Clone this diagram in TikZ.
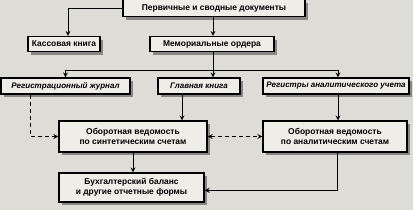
\documentclass[tikz,border=0pt]{standalone}
\usepackage{fontspec}
\setmainfont{Liberation Sans}
\usetikzlibrary{shadows}
\definecolor{paper}{RGB}{222,220,214}
\definecolor{boxfill}{RGB}{238,237,232}
\definecolor{shade}{RGB}{135,135,132}
\begin{document}
\begin{tikzpicture}[>=stealth, x=0.025cm, y=-0.025cm,
  box/.style={draw, rectangle, line width=0.8pt, fill=boxfill, align=center, inner sep=0pt,
    font=\fontsize{6}{7.2}\selectfont\bfseries,
    drop shadow={shadow xshift=2.2pt, shadow yshift=-2.2pt, fill=shade, opacity=1}},
  slanted/.style={font=\fontsize{5.7}{7}\selectfont\bfseries\itshape},
  link/.style={line width=0.6pt}]
\useasboundingbox[fill=paper] (0,0) rectangle (413,210);
\node[box, minimum width=4.55cm, minimum height=0.425cm] (docs) at (214,8) {Первичные и сводные документы};
\node[box, minimum width=1.8cm, minimum height=0.375cm] (cash) at (64,44) {Кассовая книга};
\node[box, minimum width=3.1cm, minimum height=0.375cm] (memo) at (212,44) {Мемориальные ордера};
\node[box, slanted, minimum width=3.225cm, minimum height=0.4cm] (journal) at (65.5,86) {Регистрационный журнал};
\node[box, slanted, minimum width=2.05cm, minimum height=0.4cm] (ledger) at (199,86) {Главная книга};
\node[box, slanted, minimum width=3.65cm, minimum height=0.4cm] (analreg) at (336,86) {Регистры аналитического учета};
\node[box, minimum width=3.7cm, minimum height=0.775cm] (synth) at (133,136.5) {Оборотная ведомость\\по синтетическим счетам};
\node[box, minimum width=3.6cm, minimum height=0.775cm] (anal) at (335,136.5) {Оборотная ведомость\\по аналитическим счетам};
\node[box, minimum width=3.625cm, minimum height=0.725cm] (balance) at (131.5,187.5) {Бухгалтерский баланс\\и другие отчетные формы};
\coordinate (split) at (213,70);
\draw[link,->] (docs.west) -| ([xshift=0.1cm]cash.north);
\draw[link,->] (split |- docs.south) -- (split |- memo.north);
\draw[link] (split |- memo.south) -- (split);
\draw[link,->] (split) -| (journal.north);
\draw[link,->] (split) -- (split |- ledger.north);
\draw[link,->] (split) -| ([xshift=0.05cm]analreg.north);
\draw[link,->] ([xshift=-0.425cm]ledger.south) -- ([xshift=-0.425cm]ledger.south |- synth.north);
\draw[link,->] ([xshift=0.05cm]analreg.south) -- ([xshift=0.05cm]analreg.south |- anal.north);
\draw[link,->,densely dashed] ([xshift=-0.875cm]journal.south) |- (synth.west);
\draw[link,<->,densely dashed] (synth) -- (anal);
\draw[link,->] (synth.south) -- (synth.south |- balance.north);
\draw[link,->] ([xshift=0.05cm]anal.south) |- ([yshift=-0.07cm]balance.east);
\end{tikzpicture}
\end{document}
